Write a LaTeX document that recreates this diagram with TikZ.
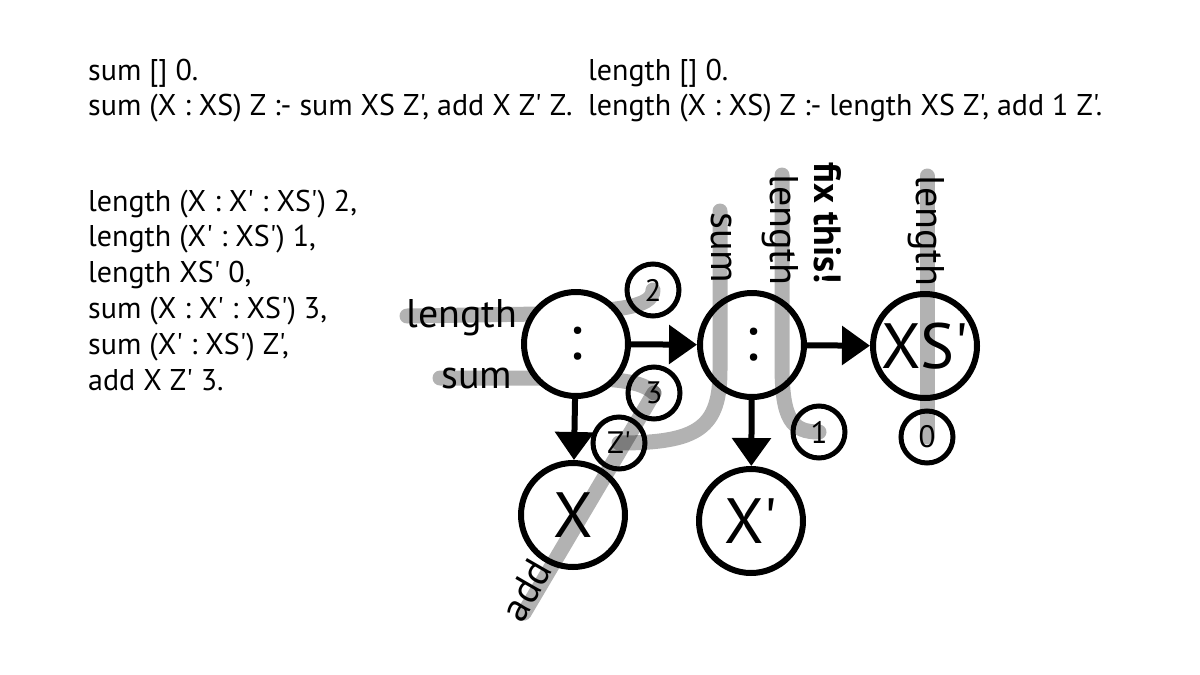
\documentclass[tikz,border=0pt]{standalone}
\usepackage{fontspec}
\setmainfont{PT Sans}[Ligatures=TeXOff]
\usetikzlibrary{arrows.meta}
\pgfdeclarelayer{bg}
\pgfsetlayers{bg,main}
\begin{document}
\begin{tikzpicture}[x=1pt,y=-1pt,
  big/.style={circle, draw, line width=6pt, fill=white, minimum size=104pt, inner sep=0pt, font=\fontsize{64}{64}\selectfont},
  small/.style={circle, draw, line width=5pt, minimum size=52pt, inner sep=0pt, font=\fontsize{31}{31}\selectfont},
  trace/.style={line width=15pt, line cap=round, draw=black, draw opacity=0.3},
  lbl/.style={font=\fontsize{40}{40}\selectfont, inner sep=0pt},
  txt/.style={font=\fontsize{30}{36}\selectfont, anchor=base west, inner sep=0pt},
  arr/.style={line width=6pt, -{Triangle[length=28pt,width=38pt]}}]
\useasboundingbox (0,0) rectangle (1200,675);
% code text
\node[txt] (t1) at (88,80) {sum [] 0.};
\node[txt] (t2) at (88,115) {sum (X : XS) Z :- sum XS Z', add X Z' Z.};
\node[txt] (t3) at (588,80) {length [] 0.};
\node[txt] (t4) at (588,115) {length (X : XS) Z :- length XS Z', add 1 Z'.};
\node[txt] (t5) at (88,211) {length (X : X' : XS') 2,};
\node[txt] (t6) at (88,246.8) {length (X' : XS') 1,};
\node[txt] (t7) at (88,282.6) {length XS' 0,};
\node[txt] (t8) at (88,318.4) {sum (X : X' : XS') 3,};
\node[txt] (t9) at (88,354.2) {sum (X' : XS') Z',};
\node[txt] (t10) at (88,390) {add X Z' 3.};
% nodes
\node[big] (A) at (576,344) {:};
\node[big] (B) at (752,345) {:};
\node[big] (XS) at (925,346) {XS'};
\node[big] (X) at (573,515) {X};
\node[big] (Xp) at (751,521) {X'};
\node[small] (n2) at (653,290) {2};
\node[small] (n3) at (654,393) {3};
\node[small] (nZ) at (619,443) {Z'};
\node[small] (n1) at (819,432) {1};
\node[small] (n0) at (927,437) {0};
% coordinates for free ends
\coordinate (lenH) at (407,316);
\coordinate (sumH) at (440,378);
\coordinate (sumV) at (720,211);
\coordinate (lenV) at (782,175);
\coordinate (lenW) at (927,176);
\coordinate (addS) at (524,613);
% traces behind first cons cell
\begin{pgfonlayer}{bg}
\draw[trace] (lenH) -- (540,314) .. controls (615,311) and (653,308) .. (n2.center);
\draw[trace] (sumH) -- (560,378) .. controls (615,378) and (642,381) .. (n3.center);
\end{pgfonlayer}
% other traces
\draw[trace] (sumV) -- (720,370) .. controls (720,428) and (698,443) .. (nZ.center);
\draw[trace] (lenV) -- (782,365) .. controls (782,420) and (792,432) .. (n1.center);
\draw[trace] (lenW) -- (n0.center);
\draw[trace] (addS) -- (n3.center);
% arrows
\draw[arr] (A) -- (B);
\draw[arr] (B) -- (XS);
\draw[arr] (A) -- (X);
\draw[arr] (B) -- (Xp);
% labels
\node[lbl, anchor=base] (llen) at (462,327) {length};
\node[lbl, anchor=base] (lsum) at (477,388) {sum};
\node[lbl, rotate=-90] (lsumv) at (721,248) {sum};
\node[lbl, rotate=-90] (llenv) at (780,230) {length};
\node[lbl, rotate=-90, font=\fontsize{38}{38}\selectfont\bfseries] (fix) at (828,223) {fix this!};
\node[lbl, rotate=-90] (llenw) at (926,231) {length};
\node[lbl, rotate=60] (ladd) at (526,590) {add};
\end{tikzpicture}
\end{document}
